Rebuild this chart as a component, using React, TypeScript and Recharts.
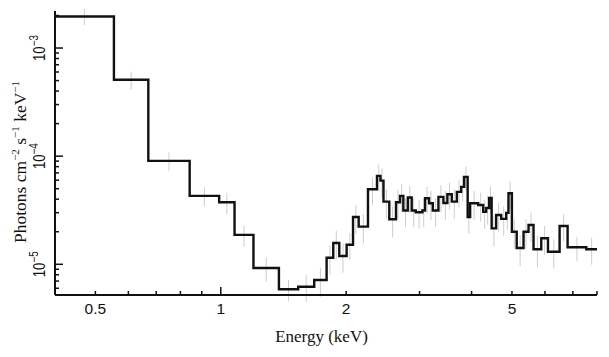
import React from 'react';
import {
  ComposedChart,
  Line,
  Scatter,
  ErrorBar,
  XAxis,
  YAxis,
  Label
} from 'recharts';

// bin edges in keV (59 bins)
const edges = [
  0.4, 0.554, 0.67, 0.842, 0.991, 1.079, 1.198, 1.379, 1.534, 1.676,
  1.795, 1.862, 1.925, 2.005, 2.077, 2.143, 2.256, 2.371, 2.417, 2.458,
  2.538, 2.634, 2.693, 2.743, 2.811, 2.873, 2.938, 3.047, 3.093, 3.162,
  3.228, 3.33, 3.423, 3.499, 3.585, 3.687, 3.776, 3.839, 3.914, 3.968,
  4.148, 4.265, 4.335, 4.408, 4.469, 4.582, 4.711, 4.843, 4.905, 4.998,
  5.133, 5.33, 5.48, 5.633, 5.879, 6.101, 6.506, 6.8, 7.541, 8.0
];

// model, photons cm^-2 s^-1 keV^-1
const model = [
  1.96e-3, 5.09e-4, 9.05e-5, 4.29e-5, 3.75e-5, 1.87e-5, 9.24e-6, 5.87e-6, 6.2e-6, 7.16e-6,
  1.15e-5, 1.575e-5, 1.194e-5, 1.518e-5, 2.74e-5, 2.23e-5, 4.95e-5, 6.57e-5, 5.94e-5, 3.8e-5,
  2.61e-5, 3.75e-5, 4.29e-5, 3.14e-5, 4.14e-5, 3.14e-5, 3.03e-5, 3.14e-5, 4.08e-5, 3.67e-5,
  3.14e-5, 4.2e-5, 3.69e-5, 4.45e-5, 3.8e-5, 4.67e-5, 5.2e-5, 6.43e-5, 2.74e-5, 3.67e-5,
  3.54e-5, 3.05e-5, 3.32e-5, 4.11e-5, 2.15e-5, 2.86e-5, 2.63e-5, 2.99e-5, 4.54e-5, 2.0e-5,
  1.415e-5, 2.0e-5, 2.31e-5, 1.377e-5, 1.74e-5, 1.308e-5, 2.26e-5, 1.437e-5, 1.377e-5
];

// relative 1-sigma errors of the data points
const errFrac = [
  0.17, 0.19, 0.2, 0.2, 0.22, 0.22, 0.25, 0.22, 0.28, 0.3,
  0.3, 0.3, 0.3, 0.28, 0.3, 0.3, 0.28, 0.27, 0.3, 0.3,
  0.32, 0.3, 0.28, 0.3, 0.28, 0.3, 0.3, 0.3, 0.28, 0.3,
  0.3, 0.28, 0.3, 0.28, 0.3, 0.28, 0.27, 0.25, 0.3, 0.3,
  0.3, 0.3, 0.3, 0.28, 0.32, 0.3, 0.3, 0.3, 0.28, 0.3,
  0.32, 0.3, 0.3, 0.32, 0.3, 0.3, 0.28, 0.25, 0.28
];

const xTicks = [0.5, 0.6, 0.7, 0.8, 0.9, 1, 2, 3, 4, 5, 6, 7, 8];
const xLabels: Record<string, string> = { '0.5': '0.5', '1': '1', '2': '2', '5': '5' };
const xMajor = [1];

const yTicks = [
  6e-6, 7e-6, 8e-6, 9e-6,
  1e-5, 2e-5, 3e-5, 4e-5, 5e-5, 6e-5, 7e-5, 8e-5, 9e-5,
  1e-4, 2e-4, 3e-4, 4e-4, 5e-4, 6e-4, 7e-4, 8e-4, 9e-4,
  1e-3, 2e-3
];
const yMajor = [1e-5, 1e-4, 1e-3];
const yExp = ['−5', '−4', '−3'];

const lineData = edges.map((e, i) => ({ e, m: model[Math.min(i, model.length - 1)] }));
const points = model.map((v, i) => ({
  e: Math.sqrt(edges[i] * edges[i + 1]),
  d: v,
  err: [v * errFrac[i], v * errFrac[i]]
}));

const SANS = '"Liberation Sans", Arial, sans-serif';
const SERIF = '"Liberation Serif", "Times New Roman", serif';
const INK = '#111';

const BottomTick = ({ x, y, payload }: any) => {
  const v = payload.value;
  const len = xMajor.includes(v) ? 8 : 4;
  const lab = xLabels[String(v)];
  return (
    <g>
      <line x1={x} x2={x} y1={y} y2={y - len} stroke={INK} strokeWidth={1.5} />
      {lab && (
        <text x={x} y={y + 19} textAnchor="middle" fontSize={15.5} fontFamily={SANS} fill={INK}>{lab}</text>
      )}
    </g>
  );
};

const TopTick = ({ x, y, payload }: any) => {
  const len = xMajor.includes(payload.value) ? 8 : 4;
  return <line x1={x} x2={x} y1={y} y2={y + len} stroke={INK} strokeWidth={1.5} />;
};

const LeftTick = ({ x, y, payload }: any) => {
  const idx = yMajor.indexOf(payload.value);
  const len = idx >= 0 ? 8 : 4;
  return (
    <g>
      <line x1={x} x2={x + len} y1={y} y2={y} stroke={INK} strokeWidth={1.5} />
      {idx >= 0 && (
        <g transform={`translate(${x - 10.5},${y}) rotate(-90)`}>
          <text x={0} y={0} textAnchor="middle" fontSize={16} fontFamily={SANS} fill={INK} transform="scale(0.82,1)">
            10<tspan fontSize={12} dy={-7}>{yExp[idx]}</tspan>
          </text>
        </g>
      )}
    </g>
  );
};

const RightTick = ({ x, y, payload }: any) => {
  const len = yMajor.includes(payload.value) ? 8 : 4;
  return <line x1={x} x2={x - len} y1={y} y2={y} stroke={INK} strokeWidth={1.5} />;
};

const YTitle = ({ viewBox }: any) => {
  const cx = viewBox.x + 18;
  const cy = viewBox.y + viewBox.height / 2 + 9;
  return (
    <text transform={`translate(${cx},${cy}) rotate(-90)`} textAnchor="middle" fontSize={17.5} fontFamily={SERIF} fill={INK}>
      Photons cm<tspan fontSize={11} dy={-7}>−2</tspan>
      <tspan dy={7}> s</tspan><tspan fontSize={11} dy={-7}>−1</tspan>
      <tspan dy={7}> keV</tspan><tspan fontSize={11} dy={-7}>−1</tspan>
    </text>
  );
};

const XTitle = ({ viewBox }: any) => (
  <text x={viewBox.x + viewBox.width / 2 - 4.5} y={viewBox.y + 47} textAnchor="middle" fontSize={17} fontFamily={SERIF} fill={INK}>
    Energy (keV)
  </text>
);

const noDot = () => <g />;

export default function App() {
  return (
    <div style={{ width: 600, height: 345 }}>
      <ComposedChart
        width={600}
        height={345}
        data={lineData}
        margin={{ top: 3, right: 11, bottom: 0, left: 0 }}
      >
        <XAxis
          dataKey="e"
          type="number"
          scale="log"
          domain={[0.4, 8]}
          allowDataOverflow
          ticks={xTicks}
          interval={0}
          height={58}
          tickSize={0}
          tickMargin={0}
          tickLine={false}
          tick={<BottomTick />}
          axisLine={{ stroke: INK, strokeWidth: 2 }}
        >
          <Label content={<XTitle />} />
        </XAxis>
        <XAxis
          xAxisId="t"
          orientation="top"
          dataKey="e"
          type="number"
          scale="log"
          domain={[0.4, 8]}
          allowDataOverflow
          ticks={xTicks}
          interval={0}
          height={0}
          tickSize={0}
          tickMargin={0}
          tickLine={false}
          tick={<TopTick />}
          axisLine={{ stroke: INK, strokeWidth: 2 }}
        />
        <YAxis
          type="number"
          scale="log"
          domain={[5.2e-6, 2.2e-3]}
          allowDataOverflow
          ticks={yTicks}
          interval={0}
          width={47}
          tickSize={0}
          tickMargin={0}
          tickLine={false}
          tick={<LeftTick />}
          axisLine={{ stroke: INK, strokeWidth: 2 }}
        >
          <Label content={<YTitle />} />
        </YAxis>
        <YAxis
          yAxisId="r"
          orientation="right"
          type="number"
          scale="log"
          domain={[5.2e-6, 2.2e-3]}
          allowDataOverflow
          ticks={yTicks}
          interval={0}
          width={0}
          tickSize={0}
          tickMargin={0}
          tickLine={false}
          tick={<RightTick />}
          axisLine={{ stroke: INK, strokeWidth: 2 }}
        />
        <Scatter data={points} dataKey="d" shape={noDot} isAnimationActive={false}>
          <ErrorBar dataKey="err" direction="y" width={0} stroke="#cdcdcd" strokeWidth={1} />
        </Scatter>
        <Line
          type="stepAfter"
          dataKey="m"
          stroke={INK}
          strokeWidth={2.4}
          dot={false}
          activeDot={false}
          isAnimationActive={false}
        />
      </ComposedChart>
    </div>
  );
}
